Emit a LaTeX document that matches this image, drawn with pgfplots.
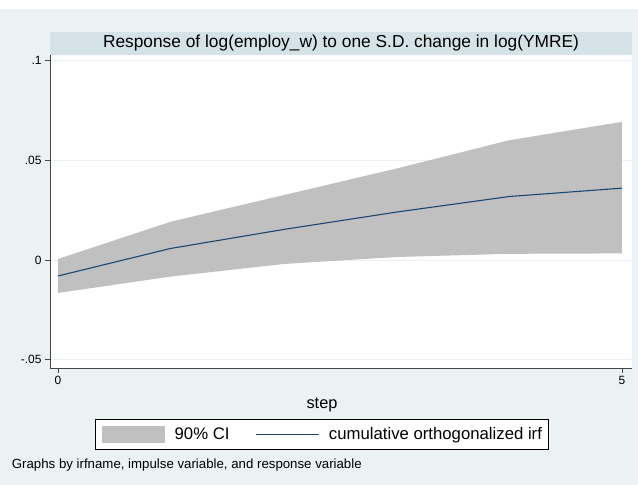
\documentclass[border=0pt]{standalone}
\usepackage{fontspec}
\setmainfont{Liberation Sans}
\usepackage{pgfplots}
\pgfplotsset{compat=1.18}

\definecolor{bgc}{RGB}{234,242,243}
\definecolor{titlec}{RGB}{213,226,231}
\definecolor{gridc}{RGB}{234,242,243}
\definecolor{axisgray}{RGB}{70,70,70}
\definecolor{bandgray}{RGB}{192,192,192}
\definecolor{irfblue}{RGB}{26,71,111}

\begin{document}
\begin{tikzpicture}
% page = 638 x 485 bp, 1 bp = 1 px of the reference
\path[use as bounding box, fill=white] (0,0) rectangle (638bp,485bp);
\fill[bgc] (0,0) rectangle (638bp,476bp);
% title band of the by-graph
\fill[titlec] (50bp,430bp) rectangle (632bp,453.3bp);
\node[font=\fontsize{17.4}{20}\selectfont] at (341bp,441.5bp)
  {Response of log(employ\_w) to one S.D. change in log(YMRE)};

\begin{axis}[
    at={(50bp,117bp)}, anchor=south west,
    width=582bp, height=313bp, scale only axis,
    xmin=-0.0709, xmax=5.0887, ymin=-0.0541, ymax=0.1027,
    axis x line=bottom, axis y line=left,
    axis line style={draw=axisgray, line width=0.9bp, -},
    axis background/.style={fill=white},
    xtick={0,5}, xticklabels={0,5},
    ytick={-0.05,0,0.05,0.1}, yticklabels={-.05,0,.05,.1},
    tick align=outside, major tick length=5bp,
    tick style={draw=axisgray, line width=0.8bp},
    ymajorgrids, grid style={draw=gridc, line width=0.8bp},
    ticklabel style={font=\fontsize{12}{14}\selectfont},
    legend columns=2,
    legend style={at={(axis description cs:0.4671,-0.2113)}, anchor=center,
        draw=black, line width=0.6bp, fill=white,
        inner xsep=6.3bp, inner ysep=6.5bp,
        nodes={inner xsep=0pt, inner ysep=2bp},
        font=\fontsize{16.8}{19}\selectfont,
        /tikz/every odd column/.append style={column sep=9.3bp},
        /tikz/every even column/.append style={column sep=25.7bp}},
    legend cell align=left,
]
% 90% CI band: upper bound 0..5, then lower bound 5..0
\addplot[fill=bandgray, draw=none,
    legend image code/.code={\fill[bandgray] (0bp,-8.5bp) rectangle (63.7bp,8.5bp);}]
  coordinates {
    (0,0.0005) (1,0.0192) (2,0.0325) (3,0.0458) (4,0.0600) (5,0.0692)
    (5,0.0033) (4,0.0031) (3,0.0015) (2,-0.0020) (1,-0.0083) (0,-0.0165)
  } -- cycle;
\addlegendentry{90\% CI}
% cumulative orthogonalized irf
\addplot[irfblue, line width=1.1bp, mark=none,
    legend image code/.code={\draw[irfblue, line width=1.1bp] (0bp,0bp) -- (63.3bp,0bp);}]
  coordinates {
    (0,-0.0080) (1,0.0058) (2,0.0153) (3,0.0240) (4,0.0318) (5,0.0360)
  };
\addlegendentry{cumulative orthogonalized irf\hspace{10bp}}
\end{axis}

\node[font=\fontsize{16.4}{19}\selectfont] at (322bp,80bp) {step};
\node[anchor=west, inner sep=0pt, font=\fontsize{13.3}{15}\selectfont]
  at (11.7bp,20bp) {Graphs by irfname, impulse variable, and response variable};
\end{tikzpicture}
\end{document}
